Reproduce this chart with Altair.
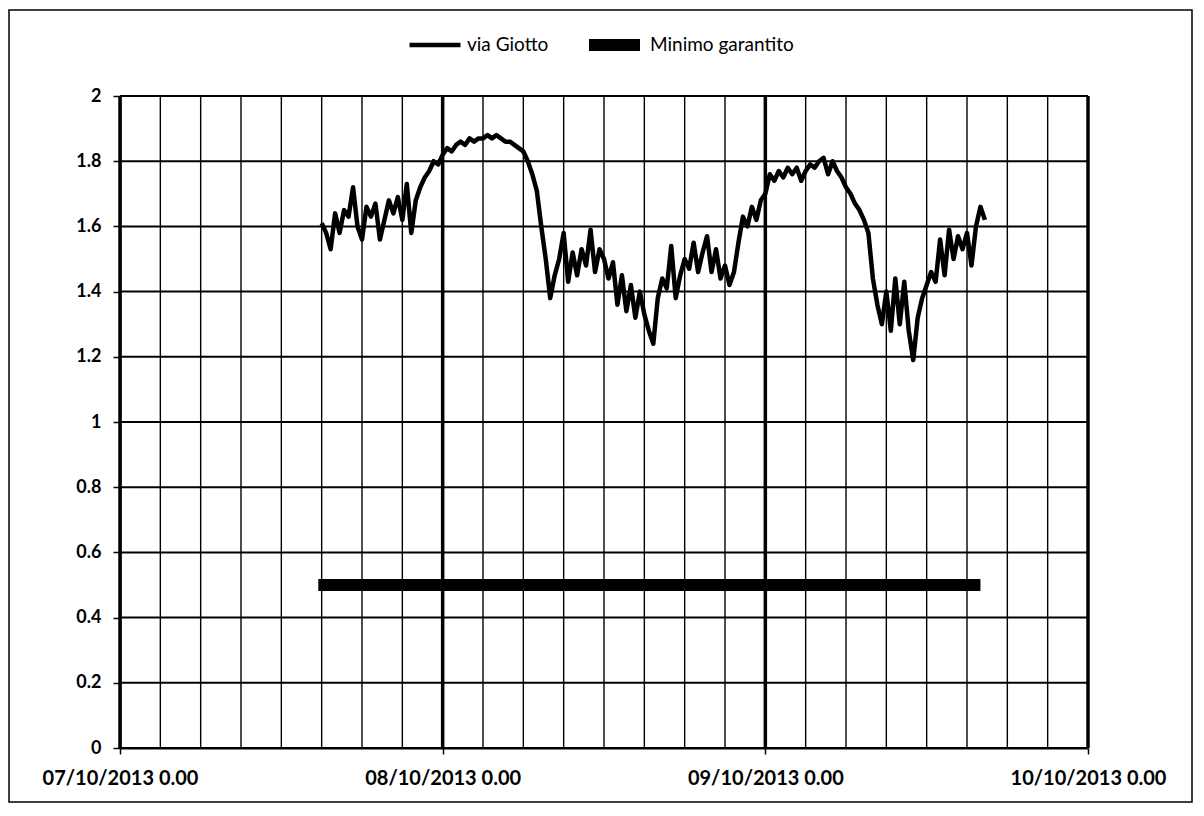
import altair as alt
import pandas as pd

# ---- data ----
series_names = ["via Giotto", "Minimo garantito"]
series_start = "2013-10-07 15:00"
step_minutes = 20
via_giotto = [
    1.61, 1.58, 1.53,  1.64, 1.58, 1.65,  1.63, 1.72, 1.60,  1.56, 1.66, 1.63,
    1.67, 1.56, 1.62,  1.68, 1.64, 1.69,  1.62, 1.73, 1.58,  1.68, 1.72, 1.75,
    1.77, 1.80, 1.79,  1.82, 1.84, 1.83,  1.85, 1.86, 1.85,  1.87, 1.86, 1.87,
    1.87, 1.88, 1.87,  1.88, 1.87, 1.86,  1.86, 1.85, 1.84,  1.83, 1.80, 1.76,
    1.71, 1.60, 1.50,  1.38, 1.45, 1.50,  1.58, 1.43, 1.52,  1.45, 1.53, 1.48,
    1.59, 1.46, 1.53,  1.50, 1.44, 1.49,  1.36, 1.45, 1.34,  1.42, 1.32, 1.40,
    1.33, 1.28, 1.24,  1.38, 1.44, 1.41,  1.54, 1.38, 1.45,  1.50, 1.47, 1.55,
    1.46, 1.52, 1.57,  1.46, 1.53, 1.44,  1.48, 1.42, 1.46,  1.55, 1.63, 1.60,
    1.66, 1.62, 1.68,  1.70, 1.76, 1.74,  1.77, 1.75, 1.78,  1.76, 1.78, 1.74,
    1.77, 1.79, 1.78,  1.80, 1.81, 1.76,  1.80, 1.77, 1.75,  1.72, 1.70, 1.67,
    1.65, 1.62, 1.58,  1.44, 1.36, 1.30,  1.40, 1.28, 1.44,  1.30, 1.43, 1.28,
    1.19, 1.32, 1.38,  1.42, 1.46, 1.43,  1.56, 1.45, 1.59,  1.50, 1.57, 1.53,
    1.58, 1.48, 1.60,  1.66, 1.62,
]
minimo_value = 0.5
minimo_times = ["2013-10-07 14:45", "2013-10-09 16:00"]
x_start = "2013-10-07 00:00"
x_end = "2013-10-10 00:00"
grid_step_hours = 3
y_ticks = [0, 0.2, 0.4, 0.6, 0.8, 1, 1.2, 1.4, 1.6, 1.8, 2]

# ---- tables ----
times = pd.date_range(series_start, periods=len(via_giotto), freq=f"{step_minutes}min")
df_line = pd.DataFrame({"time": times, "value": via_giotto, "serie": series_names[0]})
df_min = pd.DataFrame({
    "time": pd.to_datetime(minimo_times),
    "value": [minimo_value] * len(minimo_times),
    "serie": series_names[1],
})
data = pd.concat([df_line, df_min], ignore_index=True)

grid_times = pd.date_range(x_start, x_end, freq=f"{grid_step_hours}h")
df_grid = pd.DataFrame({"time": grid_times, "day": grid_times.hour == 0})
df_hgrid = pd.DataFrame({"value": y_ticks})

FONT = "Lato"
x_scale = alt.Scale(domain=[alt.DateTime(year=2013, month=10, date=7),
                            alt.DateTime(year=2013, month=10, date=10)])
y_scale = alt.Scale(domain=[0, 2], nice=False)

x_axis = alt.Axis(
    values=[alt.DateTime(year=2013, month=10, date=d) for d in (7, 8, 9, 10)],
    labelExpr="timeFormat(datum.value, '%d/%m/%Y') + ' 0.00'",
    labelOverlap=False,
    labelFlush=False,
    labelPadding=14,
    labelFontSize=20,
    grid=False,
    tickColor="black",
    tickSize=6,
    tickWidth=1.5,
    domainColor="black",
    domainWidth=2,
)
y_axis = alt.Axis(
    values=y_ticks,
    format="~g",
    grid=False,
    tickColor="black",
    tickSize=7,
    tickWidth=1.5,
    labelPadding=12,
    labelFontSize=18,
    domainColor="black",
    domainWidth=2,
)

vgrid = alt.Chart(df_grid).mark_rule(color="black").encode(
    x=alt.X("time:T", scale=x_scale, axis=x_axis, title=None),
    strokeWidth=alt.condition("datum.day", alt.value(3.5), alt.value(1.4)),
)
hgrid = alt.Chart(df_hgrid).mark_rule(color="black", strokeWidth=2).encode(
    y=alt.Y("value:Q", scale=y_scale, axis=y_axis, title=None),
)

legend = alt.Legend(
    title=None,
    orient="none",
    legendX=287,
    legendY=-62,
    direction="horizontal",
    symbolType="stroke",
    symbolSize=2600,
    clipHeight=22,
    columnPadding=34,
    labelFont=FONT,
    labelFontSize=19,
    labelColor="black",
    labelOffset=4,
)

lines = alt.Chart(data).mark_line(strokeJoin="round", strokeCap="butt").encode(
    x=alt.X("time:T", scale=x_scale, axis=x_axis, title=None),
    y=alt.Y("value:Q", scale=y_scale, axis=y_axis, title=None),
    color=alt.Color(
        "serie:N",
        scale=alt.Scale(domain=series_names, range=["black", "black"]),
        legend=legend,
    ),
    strokeWidth=alt.StrokeWidth(
        "serie:N",
        scale=alt.Scale(domain=series_names, range=[4.5, 12]),
        legend=legend,
    ),
)

frame = alt.Chart(pd.DataFrame({"k": [0]})).mark_rect(
    fillOpacity=0, stroke="black", strokeWidth=1.5, clip=False
).encode(
    x=alt.value(-111), x2=alt.value(1072), y=alt.value(-86), y2=alt.value(706)
)

chart = (
    alt.layer(vgrid, hgrid, lines, frame)
    .properties(
        width=968,
        height=652,
        autosize=alt.AutoSizeParams(type="none"),
        padding={"left": 112, "top": 88, "right": 106, "bottom": 60},
        background="white",
    )
    .configure_view(stroke=None)
    .configure_axis(labelFont=FONT, labelFontWeight="bold", labelColor="black")
)

chart.save("out.html", embed_options={"renderer": "svg", "actions": False})
